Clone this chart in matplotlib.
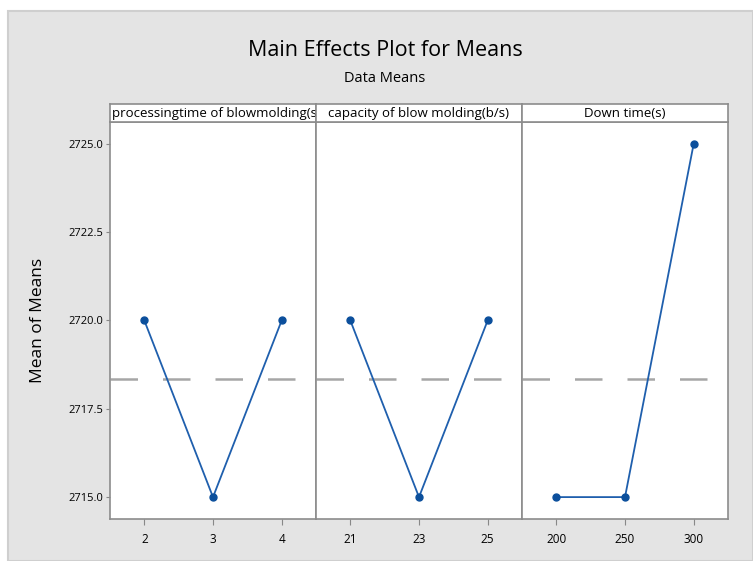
import matplotlib
matplotlib.use("Agg")
import matplotlib.pyplot as plt
from matplotlib.patches import Rectangle
import numpy as np

# data
factors = ["processingtime of blowmolding(s)", "capacity of blow molding(b/s)", "Down time(s)"]
levels = [["2", "3", "4"], ["21", "23", "25"], ["200", "250", "300"]]
means = [[2720.0, 2715.0, 2720.0],
         [2720.0, 2715.0, 2720.0],
         [2715.0, 2715.0, 2725.0]]
y_ticks = [2715.0, 2717.5, 2720.0, 2722.5, 2725.0]
grand_mean = np.mean(means[0])

plt.rcParams['font.family'] = ['Open Sans', 'DejaVu Sans']

W, H = 753, 561
fig = plt.figure(figsize=(W / 100, H / 100), dpi=100)
fig.patch.set_facecolor("white")
bg = Rectangle((8 / W, 0), 1 - 8 / W, 1 - 11 / H, transform=fig.transFigure,
               facecolor="#e4e4e4", edgecolor="#cfcfcf", lw=1.5, zorder=-10)
fig.patches.append(bg)

left, right = 110 / W, 728 / W
bottom, top = 1 - 519 / H, 1 - 122 / H
strip_h = 18 / H
pw = (right - left) / 3
line_col = "#1f5fad"
frame_col = "#8c8c8c"

renderer = fig.canvas.get_renderer()
for i in range(3):
    ax = fig.add_axes([left + i * pw, bottom, pw, top - bottom])
    x = np.arange(1, 4)
    ax.axhline(grand_mean, color="#a6a6a6", lw=1.8, dashes=(11, 10), zorder=1)
    ax.plot(x, means[i], color=line_col, lw=1.3, marker="o", ms=5,
            mfc="#0b4f9c", mec="#0b4f9c", zorder=3)
    ax.set_xlim(0.5, 3.5)
    ax.set_ylim(2714.38, 2725.62)
    ax.set_xticks(x)
    ax.set_xticklabels(levels[i], fontsize=8.5)
    ax.set_yticks(y_ticks)
    if i == 0:
        ax.set_yticklabels(["%.1f" % v for v in y_ticks], fontsize=8)
        ax.tick_params(axis="y", length=3, color="#888888", pad=2)
        ax.set_ylabel("Mean of Means", fontsize=12.5, labelpad=16)
    else:
        ax.tick_params(axis="y", left=False, labelleft=False)
    ax.tick_params(axis="x", length=4, color="#888888", pad=6)
    for s in ax.spines.values():
        s.set_color(frame_col)
        s.set_linewidth(1.2)
    ax.set_facecolor("white")

    sax = fig.add_axes([left + i * pw, top, pw, strip_h])
    sax.set_xticks([])
    sax.set_yticks([])
    sax.set_facecolor("white")
    for s in sax.spines.values():
        s.set_color(frame_col)
        s.set_linewidth(1.2)
    t = sax.text(0.5, 0.45, factors[i], ha="center", va="center", fontsize=9.5,
                 transform=sax.transAxes, clip_on=True)
    # labels wider than the strip start at the left edge and get cut on the right
    if t.get_window_extent(renderer).width > pw * W - 4:
        t.set_x(0.01)
        t.set_ha("left")

fig.text(385 / W, 1 - 51 / H, "Main Effects Plot for Means", ha="center", va="center", fontsize=15.5)
fig.text(385 / W, 1 - 78 / H, "Data Means", ha="center", va="center", fontsize=10.5)

fig.savefig("out.png", dpi=100, facecolor=fig.get_facecolor())
